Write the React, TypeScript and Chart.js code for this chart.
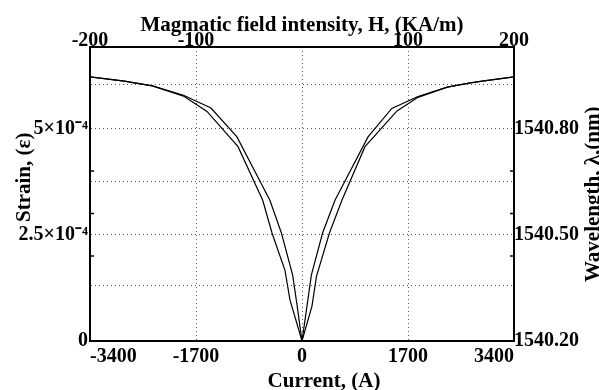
import React, { useEffect, useRef } from "react";
import { Chart, registerables } from "chart.js";

Chart.register(...registerables);

// Current (A) and strain values for the two measured curves
const currentA = [-3400, -2850, -2400, -1900, -1460, -1043, -515, -330, -150, -80, 0, 80, 150, 330, 529, 1059, 1440, 1860, 2330, 2700, 2890, 3400];
const strainA = [6.21e-4, 6.11e-4, 6.0e-4, 5.78e-4, 5.48e-4, 4.8e-4, 3.31e-4, 2.54e-4, 1.55e-4, 0.85e-4, 0, 0.82e-4, 1.55e-4, 2.54e-4, 3.31e-4, 4.8e-4, 5.47e-4, 5.75e-4, 5.97e-4, 6.07e-4, 6.11e-4, 6.21e-4];
const currentB = [-3400, -2850, -2400, -1900, -1524, -1026, -630, -481, -273, -192, 0, 160, 232, 440, 640, 1010, 1524, 1860, 2330, 2700, 2890, 3400];
const strainB = [6.21e-4, 6.11e-4, 6.0e-4, 5.76e-4, 5.4e-4, 4.57e-4, 3.31e-4, 2.54e-4, 1.66e-4, 0.96e-4, 0, 0.82e-4, 1.52e-4, 2.54e-4, 3.31e-4, 4.57e-4, 5.41e-4, 5.73e-4, 5.97e-4, 6.07e-4, 6.11e-4, 6.21e-4];

const currentTicks = [-3400, -1700, 0, 1700, 3400];
const fieldTicks = [-200, -100, 0, 100, 200];
const strainGridValues = [0, 1.3e-4, 2.5e-4, 3.75e-4, 5e-4, 6.04e-4];
const strainMinorTicks = [2e-4, 3e-4, 4e-4];
const wavelengthTicks = [1540.2, 1540.5, 1540.8];

const xTitle = "Current, (A)";
const x2Title = "Magmatic field intensity, H, (KA/m)";
const yTitle = "Strain, (ε)";
const y2Title = "Wavelength, λ,(nm)";

const STRAIN_MAX = 6.914e-4;
const WL_MIN = 1540.2;
const WL_PER_STRAIN = 1200; // nm per unit strain (0.3 nm per 2.5e-4)

const FONT = "'Liberation Serif', 'Times New Roman', serif";
const TITLE_FONT = `bold 21px ${FONT}`;

const strainLabel = (v: number) => {
  if (Math.abs(v) < 1e-9) return "0";
  if (Math.abs(v - 2.5e-4) < 1e-9) return "2.5×10⁻⁴";
  if (Math.abs(v - 5e-4) < 1e-9) return "5×10⁻⁴";
  return "";
};

const decorPlugin = {
  id: "decor",
  afterDraw(chart: any) {
    const y = chart.scales.y;
    const x = chart.scales.x;
    const { left, right } = chart.chartArea;
    const ctx = chart.ctx;
    ctx.save();
    ctx.strokeStyle = "#000";
    ctx.lineWidth = 1.5;
    strainMinorTicks.forEach((v) => {
      const py = y.getPixelForValue(v);
      ctx.beginPath();
      ctx.moveTo(left, py);
      ctx.lineTo(left + 4, py);
      ctx.moveTo(right, py);
      ctx.lineTo(right - 4, py);
      ctx.stroke();
    });
    // axis titles
    ctx.fillStyle = "#000";
    ctx.font = TITLE_FONT;
    ctx.textAlign = "center";
    ctx.textBaseline = "alphabetic";
    ctx.fillText(xTitle, x.getPixelForValue(0) + 22, 387);
    ctx.save();
    ctx.translate(30, y.getPixelForValue(3.85e-4));
    ctx.rotate(-Math.PI / 2);
    ctx.fillText(yTitle, 0, 0);
    ctx.restore();
    ctx.save();
    ctx.translate(599, y.getPixelForValue(3.45e-4));
    ctx.rotate(-Math.PI / 2);
    ctx.fillText(y2Title, 0, 0);
    ctx.restore();
    ctx.restore();
  },
};

export default function App() {
  const ref = useRef<HTMLCanvasElement | null>(null);

  useEffect(() => {
    if (!ref.current) return;
    const toPts = (xs: number[], ys: number[]) => xs.map((x, i) => ({ x, y: ys[i] }));
    const chart = new Chart(ref.current, {
      type: "line",
      data: {
        datasets: [
          {
            data: toPts(currentA, strainA),
            borderColor: "#000",
            borderWidth: 1.2,
            pointRadius: 0,
            tension: 0,
            fill: false,
          },
          {
            data: toPts(currentB, strainB),
            borderColor: "#000",
            borderWidth: 1.2,
            pointRadius: 0,
            tension: 0,
            fill: false,
          },
        ],
      },
      options: {
        responsive: false,
        animation: false,
        layout: { padding: 0 },
        plugins: { legend: { display: false }, tooltip: { enabled: false } },
        scales: {
          x: {
            type: "linear",
            position: "bottom",
            min: -3400,
            max: 3400,
            afterBuildTicks: (s: any) => {
              s.ticks = currentTicks.map((v) => ({ value: v }));
            },
            afterFit: (s: any) => {
              s.height = 49;
            },
            ticks: {
              align: "inner",
              color: "#000",
              padding: 4,
              font: { family: FONT, size: 20, weight: "bold" },
              callback: (v: any) => String(v),
            },
            grid: {
              color: (c: any) => (Math.abs(c.tick?.value) === 3400 ? "rgba(0,0,0,0)" : "#555"),
              lineWidth: 1,
              drawTicks: false,
            },
            border: { display: true, color: "#000", width: 2, dash: [1, 3] },
            title: { display: false, text: xTitle },
          },
          x2: {
            type: "linear",
            position: "top",
            min: -200,
            max: 200,
            afterBuildTicks: (s: any) => {
              s.ticks = fieldTicks.map((v) => ({ value: v }));
            },
            afterFit: (s: any) => {
              s.height = 47;
            },
            ticks: {
              color: "#000",
              padding: -6,
              font: { family: FONT, size: 20, weight: "bold" },
              callback: (v: any) => (v === 0 ? "" : String(v)),
            },
            grid: { display: false, drawTicks: false },
            border: { display: true, color: "#000", width: 2 },
            title: {
              display: true,
              text: x2Title,
              color: "#000",
              padding: { top: 13, bottom: 0 },
              font: { family: FONT, size: 21, weight: "bold" },
            },
          },
          y: {
            type: "linear",
            position: "left",
            min: 0,
            max: STRAIN_MAX,
            afterBuildTicks: (s: any) => {
              s.ticks = strainGridValues.map((v) => ({ value: v }));
            },
            afterFit: (s: any) => {
              s.width = 90;
            },
            ticks: {
              color: "#000",
              padding: 2,
              font: { family: FONT, size: 20, weight: "bold" },
              callback: (v: any) => strainLabel(v),
            },
            grid: {
              color: (c: any) => (c.tick?.value === 0 ? "rgba(0,0,0,0)" : "#555"),
              lineWidth: 1,
              drawTicks: false,
            },
            border: { display: true, color: "#000", width: 2, dash: [1, 3] },
            title: { display: false, text: yTitle },
          },
          y2: {
            type: "linear",
            position: "right",
            min: WL_MIN,
            max: WL_MIN + WL_PER_STRAIN * STRAIN_MAX,
            afterBuildTicks: (s: any) => {
              s.ticks = wavelengthTicks.map((v) => ({ value: v }));
            },
            afterFit: (s: any) => {
              s.width = 85;
            },
            ticks: {
              color: "#000",
              padding: 0,
              font: { family: FONT, size: 20, weight: "bold" },
              callback: (v: any) => Number(v).toFixed(2),
            },
            grid: { display: false, drawTicks: false },
            border: { display: true, color: "#000", width: 2 },
            title: { display: false, text: y2Title },
          },
        },
      },
      plugins: [decorPlugin],
    } as any);
    return () => chart.destroy();
  }, []);

  return (
    <div style={{ position: "fixed", left: 0, top: 0, width: 599, height: 390, background: "#fff" }}>
      <canvas ref={ref} width={599} height={390} />
    </div>
  );
}
